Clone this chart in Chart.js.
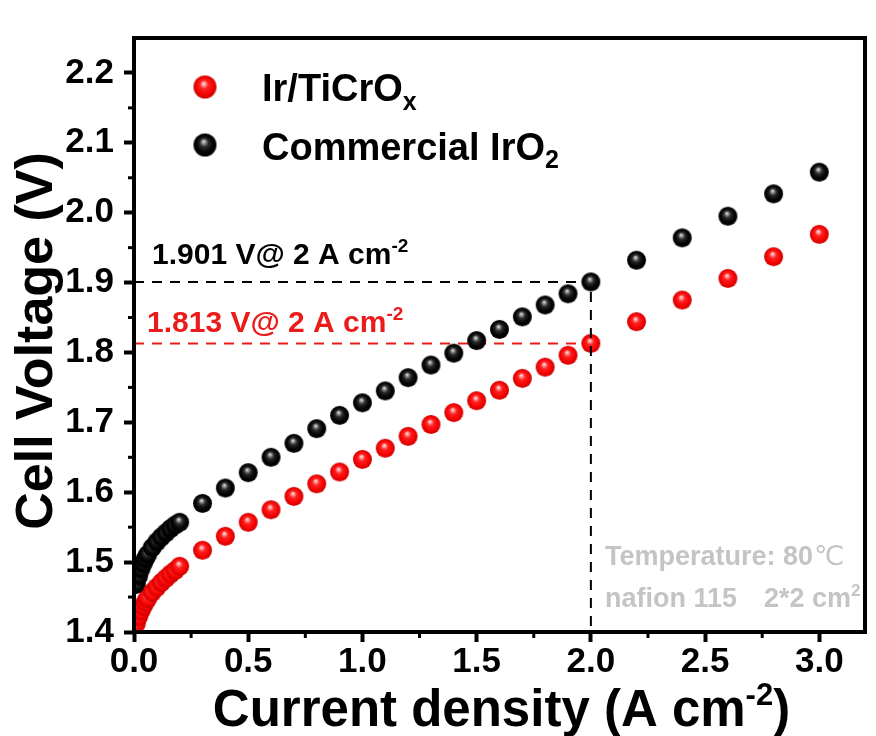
<!DOCTYPE html>
<html>
<head>
<meta charset="utf-8">
<script src="https://cdn.jsdelivr.net/npm/chart.js@4.4.1/dist/chart.umd.min.js"></script>
<style>
html,body{margin:0;padding:0;background:#ffffff;}
#wrap{width:876px;height:736px;position:relative;}
</style>
</head>
<body>
<div id="wrap"><canvas id="c" width="876" height="736"></canvas></div>
<script>
// ---------- data ----------
const currentDensity = [0.01,0.02,0.03,0.04,0.05,0.06,0.08,0.10,0.12,0.14,0.16,0.18,0.20,
  0.3,0.4,0.5,0.6,0.7,0.8,0.9,1.0,1.1,1.2,1.3,1.4,1.5,1.6,1.7,1.8,1.9,2.0,2.2,2.4,2.6,2.8,3.0];
const irTiCrOxVoltage = [1.412,1.422,1.430,1.437,1.443,1.448,1.457,1.464,1.471,1.477,1.483,1.488,1.494,
  1.517,1.537,1.557,1.575,1.594,1.612,1.629,1.647,1.663,1.680,1.697,1.714,1.731,1.746,1.763,1.779,1.796,1.813,1.844,1.875,1.906,1.937,1.969];
const commercialIrO2Voltage = [1.468,1.480,1.490,1.498,1.505,1.511,1.521,1.529,1.536,1.542,1.548,1.553,1.557,
  1.584,1.606,1.628,1.650,1.670,1.691,1.710,1.728,1.745,1.764,1.782,1.799,1.817,1.833,1.851,1.868,1.884,1.901,1.932,1.964,1.995,2.027,2.058];
const seriesLabels = ['Ir/TiCrOx', 'Commercial IrO2'];
const xTickValues = [0, 0.5, 1.0, 1.5, 2.0, 2.5, 3.0];
const yTickValues = [1.4, 1.5, 1.6, 1.7, 1.8, 1.9, 2.0, 2.1, 2.2];
const refCurrent = 2.0;
const refVoltageIrTiCrOx = 1.813;
const refVoltageIrO2 = 1.901;

// ---------- styling ----------
const FONT = '"Liberation Sans", Arial, Helvetica, sans-serif';
const RED = '#ec1b1b';
const GREY = '#c4c4c4';

function makeSphere(r, stops) {
  const s = Math.ceil(2 * r + 2);
  const cv = document.createElement('canvas');
  cv.width = s; cv.height = s;
  const g = cv.getContext('2d');
  const c = s / 2;
  const grad = g.createRadialGradient(c - 0.12 * r, c - 0.32 * r, 0, c, c, r);
  stops.forEach(st => grad.addColorStop(st[0], st[1]));
  g.fillStyle = grad;
  g.beginPath(); g.arc(c, c, r, 0, Math.PI * 2); g.fill();
  return cv;
}
const redStops = [[0,'#fff4f6'],[0.16,'#ff9a9a'],[0.38,'#ff2020'],[0.8,'#f20000'],[1,'#c40000']];
const blackStops = [[0,'#f2f2f2'],[0.15,'#9a9a9a'],[0.38,'#2a2a2a'],[0.7,'#050505'],[1,'#000000']];
const redBall = makeSphere(9.5, redStops);
const blackBall = makeSphere(9.5, blackStops);
const redBallL = makeSphere(11.5, redStops);
const blackBallL = makeSphere(11.5, blackStops);

function textWithScript(ctx, parts, x, y) {
  let cx = x;
  parts.forEach(p => {
    ctx.font = 'bold ' + p.size + 'px ' + FONT;
    ctx.fillText(p.t, cx, y + (p.dy || 0));
    cx += ctx.measureText(p.t).width;
  });
  return cx - x;
}
function measureParts(ctx, parts) {
  let w = 0;
  parts.forEach(p => { ctx.font = 'bold ' + p.size + 'px ' + FONT; w += ctx.measureText(p.t).width; });
  return w;
}

const decor = {
  id: 'decor',
  beforeDatasetsDraw(chart) {
    const ctx = chart.ctx, xs = chart.scales.x, ys = chart.scales.y;
    ctx.save();
    ctx.lineWidth = 2;
    ctx.setLineDash([10, 8]);
    ctx.strokeStyle = '#000';
    ctx.beginPath();
    ctx.moveTo(xs.getPixelForValue(0), ys.getPixelForValue(refVoltageIrO2));
    ctx.lineTo(xs.getPixelForValue(refCurrent), ys.getPixelForValue(refVoltageIrO2));
    ctx.stroke();
    ctx.strokeStyle = RED;
    ctx.beginPath();
    ctx.moveTo(xs.getPixelForValue(0), ys.getPixelForValue(refVoltageIrTiCrOx));
    ctx.lineTo(xs.getPixelForValue(refCurrent), ys.getPixelForValue(refVoltageIrTiCrOx));
    ctx.stroke();
    ctx.restore();
  },
  afterDatasetsDraw(chart) {
    const ctx = chart.ctx, xs = chart.scales.x, ys = chart.scales.y, a = chart.chartArea;
    ctx.save();
    ctx.lineWidth = 2;
    ctx.setLineDash([10, 8]);
    ctx.strokeStyle = '#000';
    ctx.beginPath();
    ctx.moveTo(xs.getPixelForValue(refCurrent), ys.getPixelForValue(refVoltageIrO2) + 10);
    ctx.lineTo(xs.getPixelForValue(refCurrent), ys.getPixelForValue(ys.min));
    ctx.stroke();
    ctx.setLineDash([]);

    // frame
    ctx.lineWidth = 4;
    ctx.strokeStyle = '#000';
    ctx.strokeRect(a.left, a.top, a.right - a.left, a.bottom - a.top);

    // minor ticks
    ctx.lineWidth = 3;
    for (let v = 0.25; v < xs.max; v += 0.5) {
      const px = xs.getPixelForValue(v);
      ctx.beginPath(); ctx.moveTo(px, a.bottom); ctx.lineTo(px, a.bottom + 6); ctx.stroke();
    }
    for (let v = 1.45; v < ys.max; v += 0.1) {
      const py = ys.getPixelForValue(v);
      ctx.beginPath(); ctx.moveTo(a.left, py); ctx.lineTo(a.left - 6, py); ctx.stroke();
    }

    // legend
    ctx.drawImage(redBallL, 205 - redBallL.width / 2, 87 - redBallL.height / 2);
    ctx.drawImage(blackBallL, 205 - blackBallL.width / 2, 145 - blackBallL.height / 2);
    ctx.fillStyle = '#000';
    ctx.textAlign = 'left';
    ctx.textBaseline = 'alphabetic';
    textWithScript(ctx, [{t: seriesLabels[0].slice(0, -1), size: 38}, {t: seriesLabels[0].slice(-1), size: 25, dy: 9}], 262, 101);
    textWithScript(ctx, [{t: seriesLabels[1].slice(0, -1), size: 38}, {t: seriesLabels[1].slice(-1), size: 25, dy: 8}], 262, 160);

    // annotations
    ctx.fillStyle = '#000';
    textWithScript(ctx, [{t: refVoltageIrO2.toFixed(3) + ' V@ ' + refCurrent + ' A cm', size: 30}, {t: '-2', size: 19, dy: -12}], 152, 264);
    ctx.fillStyle = RED;
    textWithScript(ctx, [{t: refVoltageIrTiCrOx.toFixed(3) + ' V@ ' + refCurrent + ' A cm', size: 30}, {t: '-2', size: 19, dy: -12}], 147, 332);

    // conditions text
    ctx.fillStyle = GREY;
    ctx.font = 'bold 27px ' + FONT;
    ctx.fillText('Temperature: 80', 605, 565);
    const tw = ctx.measureText('Temperature: 80').width;
    ctx.font = '27px "DejaVu Sans", "Noto Sans CJK SC", sans-serif';
    ctx.fillText('\u2103', 605 + tw + 1, 565);
    ctx.font = 'bold 27px ' + FONT;
    ctx.fillText('nafion 115', 605, 607);
    textWithScript(ctx, [{t: '2*2 cm', size: 27}, {t: '2', size: 17, dy: -11}], 764, 607);

    // axis titles
    ctx.fillStyle = '#000';
    const xParts = [{t: 'Current density (A cm', size: 51}, {t: '-2', size: 31, dy: -21}, {t: ')', size: 51}];
    const xw = measureParts(ctx, xParts);
    textWithScript(ctx, xParts, (a.left + a.right) / 2 - xw / 2 + 2, 726);

    ctx.save();
    ctx.translate(52, (a.top + a.bottom) / 2 + 6);
    ctx.rotate(-Math.PI / 2);
    ctx.font = 'bold 52px ' + FONT;
    ctx.textAlign = 'center';
    ctx.fillText('Cell Voltage (V)', 0, 0);
    ctx.restore();

    ctx.restore();
  }
};

const tickFont = {family: FONT, size: 35, weight: 'bold', lineHeight: 1};

new Chart(document.getElementById('c'), {
  type: 'scatter',
  data: {
    datasets: [
      {
        label: seriesLabels[0],
        data: currentDensity.map((x, i) => ({x: x, y: irTiCrOxVoltage[i]})),
        pointStyle: redBall,
        pointRadius: 9.5,
        backgroundColor: RED,
        borderColor: RED,
        showLine: false
      },
      {
        label: seriesLabels[1],
        data: currentDensity.map((x, i) => ({x: x, y: commercialIrO2Voltage[i]})),
        pointStyle: blackBall,
        pointRadius: 9.5,
        backgroundColor: '#000',
        borderColor: '#000',
        showLine: false
      }
    ]
  },
  options: {
    responsive: false,
    animation: false,
    devicePixelRatio: 1,
    layout: {padding: {left: 0, top: 38, right: 11, bottom: 0}},
    plugins: {legend: {display: false}, tooltip: {enabled: false}, title: {display: false}},
    scales: {
      x: {
        type: 'linear',
        min: 0, max: 3.2,
        afterFit(scale) { scale.height = 104; },
        afterBuildTicks(scale) { scale.ticks = xTickValues.map(v => ({value: v})); },
        ticks: {stepSize: 0.5, includeBounds: false, color: '#000', font: tickFont, padding: 3,
          maxRotation: 0, autoSkip: false, callback: v => Number(v).toFixed(1)},
        grid: {drawOnChartArea: false, drawTicks: true, tickLength: 10, tickWidth: 4, tickColor: '#000'},
        border: {display: false}
      },
      y: {
        type: 'linear',
        min: 1.4, max: 2.25,
        afterFit(scale) { scale.width = 134; },
        afterBuildTicks(scale) { scale.ticks = yTickValues.map(v => ({value: v})); },
        ticks: {stepSize: 0.1, includeBounds: false, color: '#000', font: tickFont, padding: 10,
          autoSkip: false, callback: v => Number(v).toFixed(1)},
        grid: {drawOnChartArea: false, drawTicks: true, tickLength: 10, tickWidth: 4, tickColor: '#000'},
        border: {display: false}
      }
    }
  },
  plugins: [decor]
});
</script>
</body>
</html>
